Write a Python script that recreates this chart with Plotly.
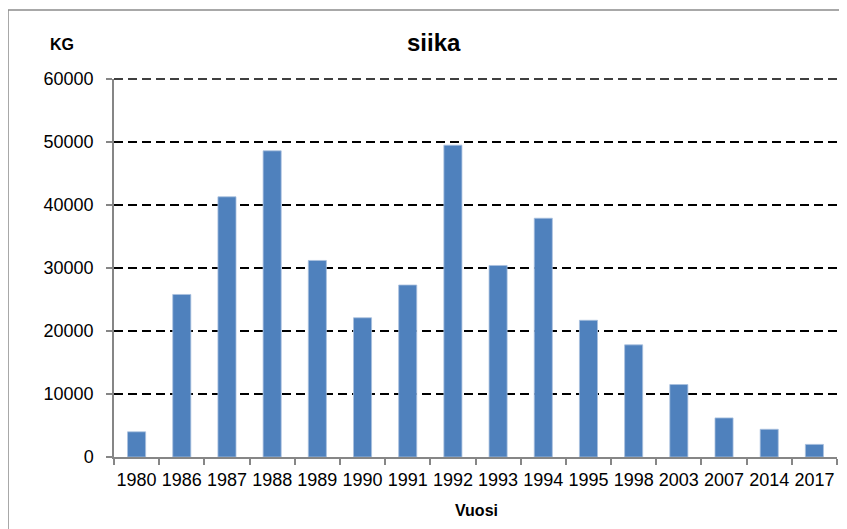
import plotly.graph_objects as go

years = ["1980", "1986", "1987", "1988", "1989", "1990", "1991", "1992",
         "1993", "1994", "1995", "1998", "2003", "2007", "2014", "2017"]
kg = [4000, 25800, 41300, 48600, 31200, 22100, 27300, 49500,
      30400, 37900, 21700, 17800, 11500, 6200, 4400, 2000]
y_ticks = [0, 10000, 20000, 30000, 40000, 50000, 60000]
y_labels = ["0", "10000", "20000", "30000", "40000", "50000", "60000"]

FONT = "Liberation Sans, Arial, sans-serif"

fig = go.Figure()
fig.add_trace(go.Bar(
    x=years, y=kg,
    marker=dict(color="#4F81BD", line=dict(color="#A9C0DE", width=0.8)),
    showlegend=False,
))

# page places the figure at (8, 8); work in screen pixels and shift
OFF = 8
W, H = 847 - OFF, 529 - OFF
L, T = 114 - OFF, 79 - OFF
R = W - (837 - OFF)
B = H - (457 - OFF)
pw = W - L - R
ph = H - T - B

def px_x(p):
    return (p - OFF - L) / pw

def px_y(p):
    return (H - B - (p - OFF)) / ph

fig.update_layout(
    width=W, height=H,
    margin=dict(l=L, r=R, t=T, b=B, pad=0, autoexpand=False),
    paper_bgcolor="white", plot_bgcolor="white",
    bargap=0.6,
    font=dict(family=FONT, size=18, color="black"),
    xaxis=dict(
        type="category",
        showline=True, linecolor="#868686", linewidth=1.5,
        ticks="outside", tickson="boundaries", ticklen=6, tickcolor="#868686", tickwidth=1.5,
        showgrid=False,
        tickangle=0, automargin=False,
        tickfont=dict(family=FONT, size=18, color="black"),
        ticklabelstandoff=6,
    ),
    yaxis=dict(
        range=[y_ticks[0], y_ticks[-1]], tickvals=y_ticks, ticktext=y_labels,
        showline=True, linecolor="#868686", linewidth=1.5,
        ticks="outside", ticklen=6, tickcolor="#868686", tickwidth=1.5,
        showgrid=True, gridcolor="black", gridwidth=1.5, griddash="9px,5px",
        zeroline=False, automargin=False,
        tickfont=dict(family=FONT, size=18, color="black"),
        ticklabelstandoff=9,
    ),
    shapes=[
        dict(type="rect", xref="paper", yref="paper",
             x0=px_x(8), x1=px_x(860), y0=px_y(540), y1=px_y(10),
             line=dict(color="#8C8C8C", width=1.5), fillcolor="rgba(0,0,0,0)",
             layer="below"),
        # top gridline (range top coincides with paper y=1)
        dict(type="line", xref="paper", yref="paper",
             x0=0, x1=1, y0=1, y1=1,
             line=dict(color="black", width=1.5, dash="9px,5px"),
             layer="above"),
    ],
    annotations=[
        dict(text="<b>siika</b>", x=px_x(433.5), y=px_y(43), xref="paper", yref="paper",
             showarrow=False, xanchor="center", yanchor="middle",
             font=dict(family=FONT, size=24, color="black")),
        dict(text="<b>KG</b>", x=px_x(62), y=px_y(44), xref="paper", yref="paper",
             showarrow=False, xanchor="center", yanchor="middle",
             font=dict(family=FONT, size=16, color="black")),
        dict(text="<b>Vuosi</b>", x=px_x(476), y=px_y(510), xref="paper", yref="paper",
             showarrow=False, xanchor="center", yanchor="middle",
             font=dict(family=FONT, size=16, color="black")),
    ],
)

fig.write_html("out.html")
